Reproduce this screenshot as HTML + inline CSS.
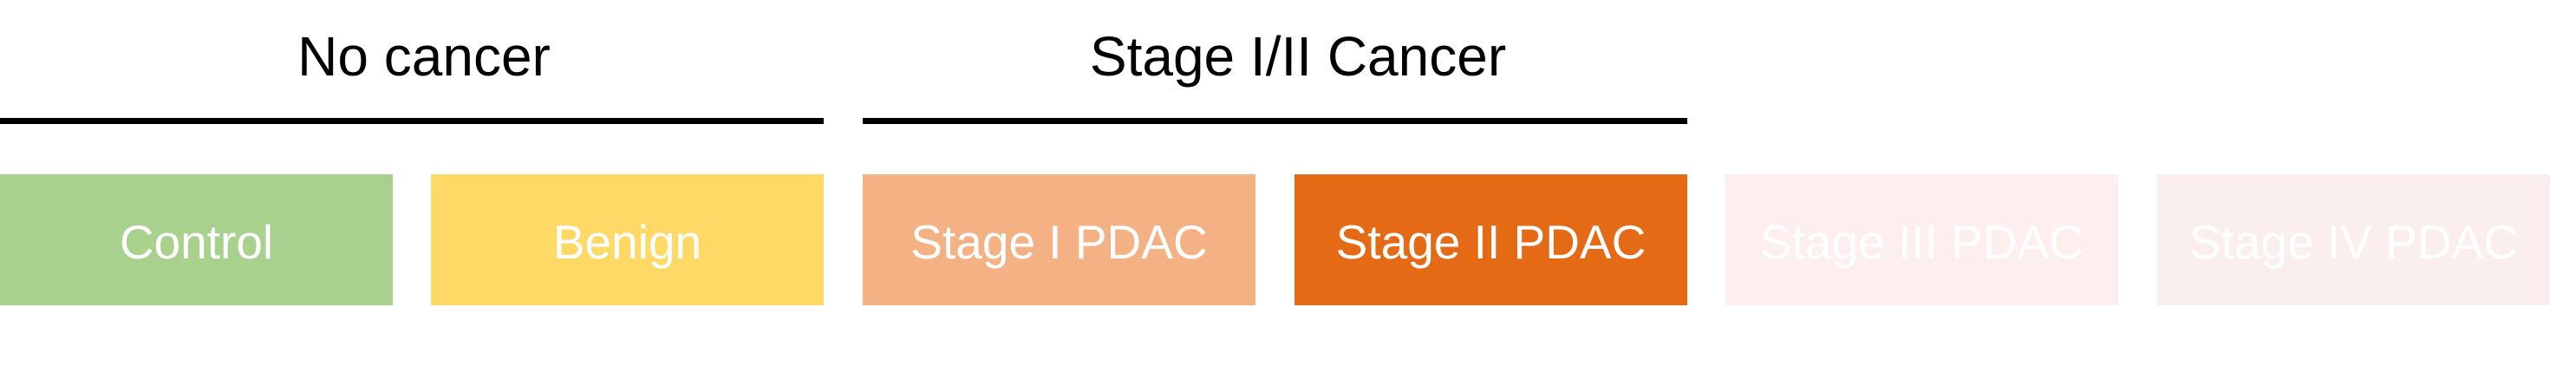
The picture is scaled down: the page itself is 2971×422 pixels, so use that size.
<!DOCTYPE html>
<html><head><meta charset="utf-8"><style>
html,body{margin:0;padding:0;background:#fff;}
body{width:2971px;height:422px;position:relative;overflow:hidden;font-family:"Liberation Sans",sans-serif;}
.t{position:absolute;top:29px;font-size:64px;color:#000;text-align:center;width:950px;line-height:72px;}
.l{position:absolute;top:136px;height:7px;background:#000;}
.b{position:absolute;top:201px;height:151px;width:453px;color:#fff;font-size:55px;display:flex;align-items:center;justify-content:center;padding-top:4px;box-sizing:border-box;}
</style></head><body>
<div class="t" style="left:14px">No cancer</div>
<div class="t" style="left:1022px">Stage I/II Cancer</div>
<div class="l" style="left:0;width:950px"></div>
<div class="l" style="left:995px;width:951px"></div>
<div class="b" style="left:0;background:#a9d18e">Control</div>
<div class="b" style="left:497px;background:#ffd966">Benign</div>
<div class="b" style="left:995px;background:#f4b183">Stage I PDAC</div>
<div class="b" style="left:1493px;background:#e46a16">Stage II PDAC</div>
<div class="b" style="left:1990px;background:#fdefee">Stage III PDAC</div>
<div class="b" style="left:2488px;background:#faeeee">Stage IV PDAC</div>
</body></html>
